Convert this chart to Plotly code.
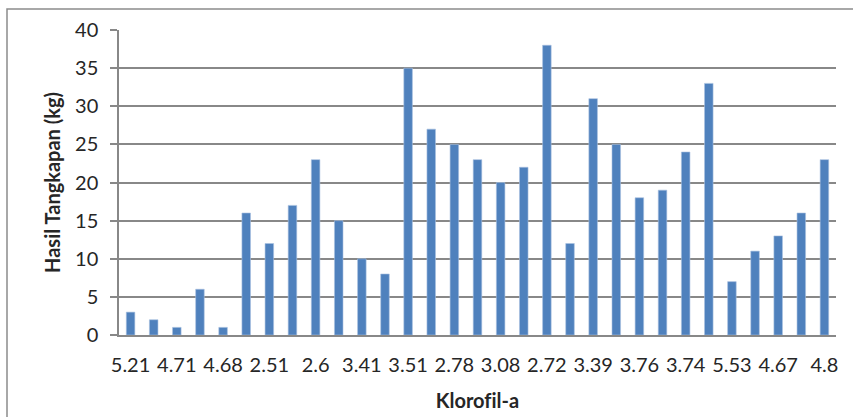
import plotly.graph_objects as go

# Catch per sampling station, in sampling order
station = list(range(1, 32))
catch_kg = [3, 2, 1, 6, 1, 16, 12, 17, 23, 15, 10, 8, 35, 27, 25, 23,
            20, 22, 38, 12, 31, 25, 18, 19, 24, 33, 7, 11, 13, 16, 23]

# Chlorophyll-a labels shown on every other station
label_station = station[::2]
klorofil_labels = ["5.21", "4.71", "4.68", "2.51", "2.6", "3.41", "3.51", "2.78",
                   "3.08", "2.72", "3.39", "3.76", "3.74", "5.53", "4.67", "4.8"]

y_ticks = [0, 5, 10, 15, 20, 25, 30, 35, 40]

W, H = 853, 417
L, R, T, B = 119, 17, 30, 82
pw, ph = W - L - R, H - T - B

grid = "#888888"
text_col = "#262626"
font_family = "Lato, 'Open Sans', sans-serif"

fig = go.Figure(
    go.Bar(
        x=station,
        y=catch_kg,
        marker=dict(color="#4F81BD", line=dict(color="#A9C1E0", width=0.6)),
        hoverinfo="x+y",
    )
)

# Outer chart border
fig.add_shape(
    type="rect", xref="paper", yref="paper",
    x0=(7 - L) / pw, x1=(W + 10 - L) / pw,
    y0=-(H + 10 - T - ph) / ph, y1=1 + (T - 9) / ph,
    line=dict(color="#8c8c8c", width=1.5), fillcolor="rgba(0,0,0,0)", layer="below",
)

fig.update_layout(
    width=W, height=H,
    margin=dict(l=L, r=R, t=T, b=B, pad=0),
    paper_bgcolor="white", plot_bgcolor="white",
    bargap=0.63,
    showlegend=False,
    font=dict(family=font_family, size=20, color=text_col),
    xaxis=dict(
        range=[0.5, 31.5],
        automargin=False,
        tickmode="array", tickvals=label_station, ticktext=klorofil_labels,
        showgrid=False, zeroline=False,
        showline=True, linecolor=grid, linewidth=1.5,
        ticks="", ticklabelstandoff=11,
        tickfont=dict(size=20, color=text_col),
        # zero-width non-joiner keeps "fi" as two separate letters
        title=dict(text="<b>Klorof\u200cil-a</b>", font=dict(size=20, color=text_col), standoff=19),
    ),
    yaxis=dict(
        range=[0, 40],
        automargin=False,
        tickmode="array", tickvals=y_ticks,
        showgrid=True, gridcolor=grid, gridwidth=1.5,
        zeroline=False,
        showline=True, linecolor=grid, linewidth=1.5,
        ticks="outside", ticklen=7, tickcolor=grid, tickwidth=1.5,
        ticklabelstandoff=8,
        tickfont=dict(size=20, color=text_col),
        title=dict(text="<b>Hasil Tangkapan (kg)</b>", font=dict(size=20, color=text_col), standoff=9),
    ),
)

fig.write_html("out.html")
